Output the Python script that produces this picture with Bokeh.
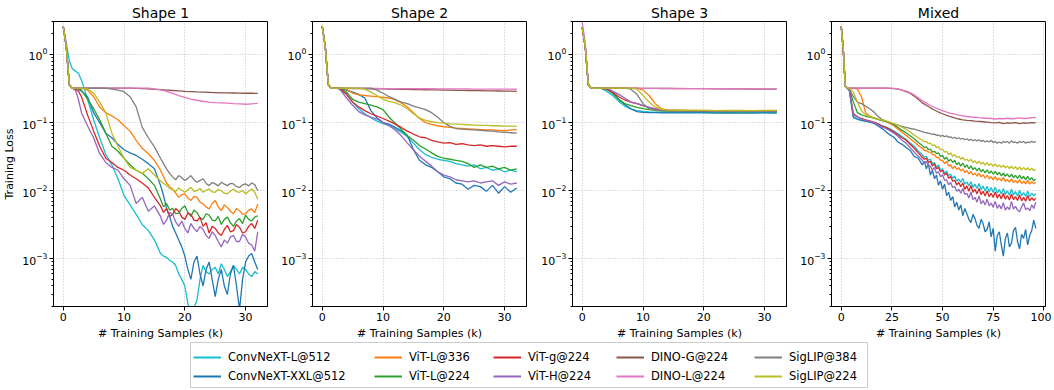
from bokeh.plotting import figure
from bokeh.models import Range1d, FixedTicker, Legend, LegendItem
from bokeh.layouts import column, row
from bokeh.embed import file_html
from bokeh.resources import INLINE

FONT = "DejaVu Sans"

labels = ["ConvNeXT-L@512", "ConvNeXT-XXL@512", "ViT-L@336", "ViT-L@224", "ViT-g@224",
          "ViT-H@224", "DINO-G@224", "DINO-L@224", "SigLIP@384", "SigLIP@224"]
colors = ["#17becf", "#1f77b4", "#ff7f0e", "#2ca02c", "#d62728",
          "#9467bd", "#8c564b", "#e377c2", "#7f7f7f", "#bcbd22"]
titles = ["Shape 1", "Shape 2", "Shape 3", "Mixed"]

# ---------------- Shape 1 ----------------
x_s1 = [0, 0.5, 1, 1.5, 2, 2.5, 3, 4, 5, 6, 7, 8, 9, 10, 11, 12, 13, 14, 15, 16, 17,
        18, 19, 20, 21, 22, 23, 24, 25, 26, 27, 28, 29, 30, 31, 32]
x_s1_fine = [0, 0.5, 1, 1.5, 2, 2.5, 3, 4, 5, 6, 7, 8, 9, 10, 11, 12, 13, 14, 15,
             16, 16.5, 17, 17.5, 18, 18.5, 19, 19.5, 20, 20.5, 21, 21.5, 22, 22.5, 23, 23.5,
             24, 24.5, 25, 25.5, 26, 26.5, 27, 27.5, 28, 28.5, 29, 29.5, 30, 30.5, 31, 31.5, 32]
s1_convnext_l = [2.6, 1.5, 0.8, 0.62, 0.57, 0.53, 0.42, 0.22, 0.11, 0.06, 0.034, 0.024, 0.015,
                 0.0085, 0.0062, 0.0045, 0.0032, 0.0026, 0.0019,
                 0.0012, 0.0011, 0.00105, 0.00095, 0.0009, 0.0008, 0.0006, 0.0005, 0.0004,
                 0.00022, 0.00016, 0.00019, 0.00025, 0.0005, 0.0008, 0.00065, 0.0006, 0.0007,
                 0.00075, 0.0006, 0.00085, 0.0007, 0.00055, 0.00065, 0.0008, 0.0007, 0.0006,
                 0.00075, 0.0007, 0.0006, 0.00055, 0.00065, 0.0006]
s1_convnext_xxl = [2.6, 1.3, 0.36, 0.32, 0.32, 0.31, 0.29, 0.24, 0.14, 0.1, 0.07, 0.06, 0.048,
                   0.04, 0.036, 0.033, 0.029, 0.025, 0.021,
                   0.012, 0.0085, 0.0055, 0.0042, 0.003, 0.0024, 0.0019, 0.0015, 0.0011, 0.0007,
                   0.0005, 0.0009, 0.0011, 0.0006, 0.0004, 0.0007, 0.0009, 0.0005, 0.00028,
                   0.0005, 0.0007, 0.0004, 0.0003, 0.0006, 0.0008, 0.0004, 0.00018, 0.0005,
                   0.0009, 0.0011, 0.0012, 0.0009, 0.0007]
s1_vitl336 = [2.6, 1.3, 0.36, 0.32, 0.32, 0.32, 0.32, 0.3, 0.24, 0.17, 0.14, 0.125, 0.11, 0.09,
              0.075, 0.055, 0.042, 0.035, 0.028,
              0.02, 0.016, 0.013, 0.0115, 0.0105, 0.0092, 0.008, 0.0088, 0.009, 0.0078, 0.0072,
              0.0083, 0.008, 0.0068, 0.0064, 0.0058, 0.0054, 0.0065, 0.0072, 0.0058, 0.0051,
              0.0062, 0.0057, 0.005, 0.0046, 0.0055, 0.0051, 0.0045, 0.0046, 0.0052, 0.0054,
              0.0048, 0.0064]
s1_vitl224 = [2.6, 1.3, 0.36, 0.32, 0.32, 0.32, 0.3, 0.22, 0.16, 0.11, 0.07, 0.045, 0.038, 0.03,
              0.024, 0.02, 0.018, 0.015, 0.012,
              0.0075, 0.0058, 0.0065, 0.0052, 0.0055, 0.0046, 0.0047, 0.0055, 0.006, 0.0048,
              0.0042, 0.0052, 0.0048, 0.004, 0.0038, 0.0046, 0.0044, 0.0037, 0.0036, 0.0042,
              0.0032, 0.0038, 0.0041, 0.0034, 0.003, 0.0036, 0.0039, 0.0033, 0.0044, 0.0038,
              0.0036, 0.0041, 0.0043]
s1_vitg224 = [2.6, 1.3, 0.36, 0.32, 0.31, 0.29, 0.24, 0.13, 0.075, 0.045, 0.03, 0.026, 0.022,
              0.02, 0.017, 0.015, 0.013, 0.011, 0.008,
              0.006, 0.0048, 0.0055, 0.0042, 0.0045, 0.0055, 0.005, 0.0041, 0.0038, 0.0047,
              0.0045, 0.0037, 0.0036, 0.0041, 0.003, 0.0034, 0.0024, 0.003, 0.0028, 0.0024,
              0.0022, 0.0027, 0.0031, 0.0025, 0.0026, 0.0032, 0.0029, 0.0024, 0.0025, 0.003,
              0.0033, 0.0028, 0.0037]
s1_vith224 = [2.6, 1.3, 0.36, 0.32, 0.3, 0.22, 0.14, 0.09, 0.06, 0.035, 0.026, 0.022, 0.02,
              0.015, 0.012, 0.0065, 0.008, 0.005, 0.006,
              0.0042, 0.0032, 0.0037, 0.0048, 0.0045, 0.0035, 0.003, 0.0036, 0.0028, 0.0024,
              0.0033, 0.0028, 0.0025, 0.003, 0.0027, 0.0022, 0.002, 0.0025, 0.0022, 0.0018,
              0.0015, 0.0019, 0.0017, 0.0021, 0.0022, 0.0018, 0.0018, 0.0023, 0.0021, 0.0017,
              0.0016, 0.0013, 0.0025]
s1_dinog224 = [2.6, 1.3, 0.36, 0.32, 0.32, 0.32, 0.32, 0.32, 0.32, 0.32, 0.32, 0.32, 0.32, 0.32,
               0.32, 0.318, 0.315, 0.312, 0.308, 0.304, 0.3, 0.296, 0.292, 0.288, 0.285, 0.282,
               0.28, 0.278, 0.276, 0.274, 0.273, 0.272, 0.271, 0.27, 0.27, 0.269]
s1_dinol224 = [2.6, 1.3, 0.36, 0.32, 0.32, 0.32, 0.32, 0.32, 0.32, 0.32, 0.32, 0.32, 0.32, 0.32,
               0.32, 0.32, 0.32, 0.32, 0.312, 0.302, 0.287, 0.268, 0.25, 0.235, 0.222, 0.213,
               0.206, 0.2, 0.197, 0.195, 0.193, 0.19, 0.188, 0.186, 0.189, 0.192]
s1_siglip384 = [2.6, 1.3, 0.36, 0.32, 0.32, 0.32, 0.32, 0.32, 0.32, 0.32, 0.32, 0.31, 0.3, 0.285,
                0.24, 0.17, 0.085, 0.06, 0.044,
                0.03, 0.025, 0.021, 0.018, 0.016, 0.0145, 0.0167, 0.0155, 0.0141, 0.0152,
                0.0167, 0.0145, 0.0133, 0.0142, 0.015, 0.0128, 0.0119, 0.0132, 0.0126, 0.0118,
                0.0133, 0.0125, 0.0119, 0.0128, 0.0126, 0.0115, 0.0112, 0.0122, 0.0126, 0.0118,
                0.013, 0.0123, 0.01]
s1_siglip224 = [2.6, 1.3, 0.36, 0.32, 0.32, 0.32, 0.32, 0.31, 0.27, 0.2, 0.14, 0.07, 0.045, 0.03,
                0.022, 0.02, 0.018, 0.021, 0.017,
                0.014, 0.0128, 0.012, 0.0108, 0.0105, 0.0098, 0.011, 0.0102, 0.0095, 0.0103,
                0.0112, 0.0098, 0.01, 0.0108, 0.0095, 0.0102, 0.0106, 0.0096, 0.0095, 0.0104,
                0.01, 0.0092, 0.009, 0.0099, 0.0106, 0.0097, 0.0095, 0.0101, 0.009, 0.0098,
                0.0106, 0.0095, 0.0075]

# ---------------- Shape 2 ----------------
x_s2 = [0, 0.5, 1, 1.5, 2, 2.5, 3, 4, 5, 6, 7, 8, 9, 10, 11, 12, 13, 14, 15, 16, 17,
        18, 19, 20, 21, 22, 23, 24, 25, 26, 27, 28, 29, 30, 31, 32]
s2_convnext_l = [2.6, 1.3, 0.36, 0.32, 0.32, 0.32, 0.31, 0.26, 0.2, 0.16, 0.135, 0.118, 0.105, 0.097,
                 0.09, 0.082, 0.072, 0.062, 0.05, 0.04, 0.034, 0.031, 0.029, 0.028, 0.027, 0.025,
                 0.024, 0.023, 0.024, 0.021, 0.022, 0.02, 0.021, 0.019, 0.02, 0.019]
s2_convnext_xxl = [2.6, 1.3, 0.36, 0.32, 0.32, 0.32, 0.32, 0.3, 0.28, 0.26, 0.23, 0.15, 0.118, 0.1,
                   0.095, 0.085, 0.076, 0.065, 0.04, 0.028, 0.024, 0.022, 0.019, 0.016, 0.015, 0.013,
                   0.0125, 0.0105, 0.012, 0.0115, 0.0098, 0.012, 0.0092, 0.0115, 0.0095, 0.011]
s2_vitl336 = [2.6, 1.3, 0.36, 0.32, 0.32, 0.32, 0.32, 0.31, 0.27, 0.255, 0.25, 0.245, 0.24, 0.235,
              0.23, 0.215, 0.195, 0.17, 0.14, 0.115, 0.1, 0.094, 0.09, 0.087, 0.085, 0.083, 0.082,
              0.081, 0.08, 0.079, 0.078, 0.078, 0.077, 0.076, 0.078, 0.079]
s2_vitl224 = [2.6, 1.3, 0.36, 0.32, 0.32, 0.32, 0.32, 0.28, 0.22, 0.2, 0.19, 0.18, 0.17, 0.155,
              0.12, 0.098, 0.08, 0.064, 0.055, 0.046, 0.041, 0.036, 0.032, 0.03, 0.029, 0.028,
              0.027, 0.025, 0.022, 0.024, 0.022, 0.023, 0.021, 0.022, 0.02, 0.021]
s2_vitg224 = [2.6, 1.3, 0.36, 0.32, 0.32, 0.32, 0.31, 0.26, 0.2, 0.17, 0.15, 0.135, 0.125, 0.115,
              0.105, 0.095, 0.085, 0.075, 0.068, 0.062, 0.06, 0.055, 0.052, 0.05, 0.051, 0.048,
              0.049, 0.047, 0.046, 0.047, 0.045, 0.046, 0.045, 0.044, 0.045, 0.045]
s2_vith224 = [2.6, 1.3, 0.36, 0.32, 0.32, 0.32, 0.3, 0.23, 0.18, 0.145, 0.13, 0.12, 0.113, 0.1,
              0.09, 0.078, 0.064, 0.05, 0.04, 0.032, 0.027, 0.023, 0.019, 0.017, 0.016, 0.0145,
              0.014, 0.0135, 0.014, 0.013, 0.0135, 0.014, 0.012, 0.0135, 0.0125, 0.013]
s2_dinog224 = [2.6, 1.3, 0.36, 0.32, 0.32, 0.32, 0.32, 0.318, 0.317, 0.316, 0.315, 0.314, 0.313,
               0.312, 0.311, 0.31, 0.309, 0.308, 0.306, 0.305, 0.304, 0.303, 0.302, 0.3, 0.299,
               0.298, 0.297, 0.296, 0.295, 0.294, 0.293, 0.292, 0.291, 0.29, 0.289, 0.288]
s2_dinol224 = [2.6, 1.3, 0.36, 0.32, 0.32, 0.32, 0.32, 0.318, 0.318, 0.318, 0.317, 0.317, 0.317,
               0.316, 0.316, 0.316, 0.315, 0.315, 0.315, 0.314, 0.314, 0.314, 0.313, 0.313, 0.313,
               0.312, 0.312, 0.312, 0.311, 0.311, 0.311, 0.31, 0.31, 0.31, 0.31, 0.309]
s2_siglip384 = [2.6, 1.3, 0.36, 0.32, 0.32, 0.32, 0.32, 0.32, 0.32, 0.32, 0.32, 0.32, 0.3, 0.27,
                0.24, 0.22, 0.2, 0.19, 0.175, 0.165, 0.155, 0.14, 0.12, 0.1, 0.088, 0.082, 0.08,
                0.079, 0.078, 0.077, 0.076, 0.075, 0.073, 0.072, 0.071, 0.07]
s2_siglip224 = [2.6, 1.3, 0.36, 0.32, 0.32, 0.32, 0.32, 0.32, 0.32, 0.32, 0.31, 0.28, 0.25, 0.22,
                0.205, 0.195, 0.18, 0.16, 0.135, 0.118, 0.108, 0.103, 0.1, 0.098, 0.096, 0.095,
                0.094, 0.093, 0.092, 0.091, 0.091, 0.09, 0.09, 0.089, 0.089, 0.088]

# ---------------- Shape 3 ----------------
x_s3 = [0, 0.5, 1, 1.5, 2, 2.5, 3, 4, 5, 6, 7, 8, 9, 10, 11, 12, 13, 14, 16, 18, 20, 22, 24,
        26, 28, 30, 32]
s3_convnext_l = [2.5, 1.3, 0.36, 0.32, 0.32, 0.32, 0.32, 0.29, 0.25, 0.205, 0.175, 0.158, 0.15,
                 0.146, 0.144, 0.143, 0.142, 0.142, 0.141, 0.142, 0.141, 0.141, 0.142, 0.141, 0.14,
                 0.141, 0.14]
s3_convnext_xxl = [2.5, 1.3, 0.36, 0.32, 0.32, 0.32, 0.32, 0.32, 0.27, 0.22, 0.185, 0.16, 0.145,
                   0.141, 0.14, 0.14, 0.139, 0.139, 0.139, 0.139, 0.139, 0.138, 0.139, 0.138, 0.138,
                   0.139, 0.138]
s3_vitl336 = [2.5, 1.3, 0.36, 0.32, 0.32, 0.32, 0.32, 0.32, 0.32, 0.32, 0.32, 0.32, 0.32, 0.3,
              0.25, 0.19, 0.16, 0.153, 0.152, 0.151, 0.151, 0.15, 0.151, 0.15, 0.15, 0.151, 0.15]
s3_vitl224 = [2.5, 1.3, 0.36, 0.32, 0.32, 0.32, 0.32, 0.31, 0.27, 0.22, 0.19, 0.178, 0.168, 0.16,
              0.155, 0.151, 0.149, 0.148, 0.147, 0.146, 0.146, 0.145, 0.146, 0.145, 0.145, 0.146,
              0.145]
s3_vitg224 = [2.5, 1.3, 0.36, 0.32, 0.32, 0.32, 0.32, 0.31, 0.28, 0.24, 0.215, 0.2, 0.19, 0.178,
              0.168, 0.158, 0.153, 0.151, 0.15, 0.149, 0.149, 0.148, 0.148, 0.147, 0.148, 0.147,
              0.147]
s3_vith224 = [2.5, 1.3, 0.36, 0.32, 0.32, 0.32, 0.32, 0.32, 0.29, 0.26, 0.23, 0.2, 0.19, 0.178,
              0.168, 0.16, 0.155, 0.152, 0.15, 0.149, 0.149, 0.148, 0.148, 0.148, 0.147, 0.148,
              0.147]
s3_dinog224 = [2.5, 1.3, 0.36, 0.32, 0.32, 0.32, 0.32, 0.32, 0.32, 0.32, 0.32, 0.319, 0.319, 0.318,
               0.318, 0.318, 0.317, 0.317, 0.316, 0.315, 0.315, 0.314, 0.313, 0.312, 0.311, 0.31,
               0.31]
s3_dinol224 = [3.0, 1.5, 0.38, 0.32, 0.32, 0.32, 0.32, 0.32, 0.32, 0.32, 0.32, 0.32, 0.32, 0.319,
               0.319, 0.319, 0.318, 0.318, 0.317, 0.316, 0.316, 0.315, 0.314, 0.313, 0.312, 0.312,
               0.311]
s3_siglip384 = [2.5, 1.3, 0.36, 0.32, 0.32, 0.32, 0.32, 0.32, 0.32, 0.32, 0.32, 0.31, 0.26, 0.19,
                0.16, 0.152, 0.15, 0.149, 0.149, 0.148, 0.148, 0.148, 0.147, 0.148, 0.147, 0.147,
                0.148]
s3_siglip224 = [2.5, 1.3, 0.36, 0.32, 0.32, 0.32, 0.32, 0.32, 0.32, 0.32, 0.32, 0.32, 0.31, 0.25,
                0.2, 0.17, 0.157, 0.153, 0.152, 0.151, 0.151, 0.15, 0.15, 0.151, 0.15, 0.15, 0.151]

# ---------------- Mixed ----------------
x_mx = [0, 1, 2, 3, 4, 6, 8, 10, 12, 14, 16, 18, 20, 22, 24, 26, 28, 30, 32, 34, 36, 38, 40, 42,
        44, 46, 48, 50, 52, 54, 56, 58, 60, 62, 64, 66, 68, 70, 72, 74, 76, 78, 80, 82, 84, 86,
        88, 90, 92, 94, 96]
x_mx_fine = [0, 1, 2, 3, 4, 6, 8, 10, 12, 14, 16, 18, 20, 22, 24, 26, 28, 30, 32, 34, 36, 38,
             40, 41, 42, 43, 44, 45, 46, 47, 48, 49, 50, 51, 52, 53, 54, 55, 56, 57, 58, 59, 60,
             61, 62, 63, 64, 65, 66, 67, 68, 69, 70, 71, 72, 73, 74, 75, 76, 77, 78, 79, 80, 81,
             82, 83, 84, 85, 86, 87, 88, 89, 90, 91, 92, 93, 94, 95, 96]
mx_convnext_l = [2.6, 1.2, 0.34, 0.32, 0.3, 0.118, 0.112, 0.108, 0.105, 0.102, 0.099, 0.095, 0.09,
                 0.086, 0.081, 0.075, 0.069, 0.062, 0.057, 0.05, 0.045, 0.038,
                 0.034, 0.031, 0.032, 0.028, 0.029, 0.025, 0.026, 0.022, 0.024, 0.02, 0.021, 0.018,
                 0.0195, 0.0168, 0.0175, 0.0152, 0.0165, 0.0138, 0.0148, 0.0132, 0.0152, 0.0125,
                 0.0135, 0.0118, 0.0136, 0.0112, 0.0125, 0.0108, 0.0128, 0.0104, 0.0118, 0.0098,
                 0.0116, 0.0096, 0.0112, 0.0094, 0.0113, 0.0092, 0.0104, 0.009, 0.0108, 0.0088,
                 0.01, 0.0086, 0.0105, 0.0087, 0.0097, 0.0084, 0.0101, 0.0085, 0.0094, 0.0083,
                 0.0098, 0.0082, 0.0092, 0.0084, 0.0091]
mx_convnext_xxl = [2.6, 1.2, 0.34, 0.32, 0.3, 0.12, 0.113, 0.108, 0.105, 0.102, 0.098, 0.09, 0.082,
                   0.074, 0.066, 0.061, 0.052, 0.048, 0.043, 0.039, 0.032, 0.03,
                   0.024, 0.027, 0.021, 0.025, 0.017, 0.02, 0.015, 0.017, 0.012, 0.014, 0.0105,
                   0.0125, 0.0085, 0.0095, 0.0072, 0.0082, 0.0058, 0.0068, 0.0052, 0.0062, 0.0043,
                   0.0055, 0.0046, 0.0038, 0.0034, 0.0045, 0.0039, 0.0031, 0.0028, 0.0038, 0.0033,
                   0.0025, 0.0027, 0.0035, 0.0021, 0.0028, 0.0013, 0.0022, 0.0025, 0.0016, 0.0011,
                   0.002, 0.0024, 0.0015, 0.0017, 0.0026, 0.0029, 0.0018, 0.0014, 0.0023, 0.002,
                   0.0027, 0.0016, 0.0022, 0.0026, 0.0037, 0.0028]
mx_vitl336 = [2.6, 1.2, 0.34, 0.32, 0.32, 0.32, 0.31, 0.24, 0.14, 0.125, 0.118, 0.113, 0.108,
              0.103, 0.097, 0.09, 0.08, 0.072, 0.065, 0.058, 0.052, 0.046,
              0.042, 0.039, 0.039, 0.037, 0.037, 0.034, 0.034, 0.031, 0.031, 0.028, 0.028, 0.025,
              0.027, 0.023, 0.024, 0.021, 0.023, 0.0205, 0.0218, 0.0195, 0.0208, 0.0185, 0.0198,
              0.0176, 0.0192, 0.017, 0.0181, 0.0164, 0.0182, 0.016, 0.0172, 0.0153, 0.017, 0.015,
              0.016, 0.0145, 0.0162, 0.0142, 0.0153, 0.014, 0.0157, 0.0137, 0.0146, 0.0134, 0.015,
              0.0132, 0.0142, 0.013, 0.0146, 0.0128, 0.0138, 0.0126, 0.0142, 0.0125, 0.0136,
              0.0127, 0.0133]
mx_vitl224 = [2.6, 1.2, 0.34, 0.32, 0.31, 0.2, 0.14, 0.13, 0.124, 0.12, 0.116, 0.112, 0.108,
              0.104, 0.099, 0.093, 0.085, 0.077, 0.071, 0.064, 0.058, 0.051,
              0.046, 0.043, 0.044, 0.04, 0.041, 0.037, 0.038, 0.035, 0.036, 0.032, 0.033, 0.029,
              0.031, 0.027, 0.029, 0.026, 0.028, 0.024, 0.026, 0.023, 0.0255, 0.022, 0.024, 0.021,
              0.0232, 0.0205, 0.0218, 0.0196, 0.0215, 0.019, 0.0205, 0.0183, 0.0203, 0.018,
              0.0195, 0.0175, 0.0192, 0.0172, 0.0186, 0.0166, 0.0182, 0.0163, 0.0176, 0.0158,
              0.0175, 0.0155, 0.0168, 0.0152, 0.017, 0.015, 0.0162, 0.0146, 0.0163, 0.0144,
              0.0156, 0.014, 0.0148]
mx_vitg224 = [2.6, 1.2, 0.34, 0.32, 0.3, 0.135, 0.122, 0.115, 0.11, 0.106, 0.102, 0.097, 0.09,
              0.085, 0.079, 0.073, 0.066, 0.06, 0.055, 0.048, 0.042, 0.036,
              0.031, 0.029, 0.03, 0.026, 0.027, 0.023, 0.025, 0.021, 0.022, 0.019, 0.02, 0.017,
              0.018, 0.0152, 0.0162, 0.0138, 0.0142, 0.0122, 0.0132, 0.0115, 0.013, 0.0105,
              0.0118, 0.0098, 0.012, 0.0095, 0.0105, 0.009, 0.0108, 0.0088, 0.0098, 0.0084,
              0.0099, 0.0082, 0.0092, 0.008, 0.0096, 0.0078, 0.0089, 0.0076, 0.0092, 0.0075,
              0.0085, 0.0073, 0.009, 0.0074, 0.0082, 0.0072, 0.0087, 0.0071, 0.008, 0.007,
              0.0085, 0.0071, 0.0079, 0.0072, 0.0078]
mx_vith224 = [2.6, 1.2, 0.34, 0.32, 0.3, 0.13, 0.12, 0.113, 0.108, 0.104, 0.1, 0.094, 0.086,
              0.082, 0.076, 0.07, 0.063, 0.055, 0.05, 0.043, 0.037, 0.032,
              0.028, 0.025, 0.027, 0.023, 0.023, 0.02, 0.022, 0.018, 0.019, 0.016, 0.0172, 0.0142,
              0.0145, 0.0122, 0.0132, 0.0112, 0.0115, 0.0098, 0.0105, 0.0092, 0.0108, 0.0088,
              0.0092, 0.0078, 0.0096, 0.0074, 0.008, 0.0068, 0.0084, 0.0064, 0.0072, 0.0062,
              0.0075, 0.006, 0.0066, 0.0057, 0.007, 0.0055, 0.0062, 0.0054, 0.0067, 0.0052,
              0.0058, 0.0053, 0.007, 0.0054, 0.0059, 0.0052, 0.0049, 0.0058, 0.0066, 0.0053,
              0.0056, 0.0051, 0.0062, 0.0055, 0.0068]
mx_dinog224 = [2.6, 1.2, 0.34, 0.32,
               0.32, 0.32, 0.32, 0.32, 0.32, 0.32, 0.32, 0.32, 0.32, 0.32,
               0.318, 0.315, 0.31, 0.3, 0.285, 0.27, 0.245, 0.22, 0.195, 0.18,
               0.165, 0.153, 0.143, 0.135, 0.128, 0.122, 0.117, 0.113, 0.11, 0.108,
               0.107, 0.105, 0.104, 0.103, 0.102, 0.1, 0.099, 0.101, 0.097, 0.099,
               0.098, 0.1, 0.097, 0.099, 0.098, 0.1, 0.099]
mx_dinol224 = [2.6, 1.2, 0.34, 0.32,
               0.32, 0.32, 0.32, 0.32, 0.32, 0.32, 0.32, 0.32, 0.32, 0.32,
               0.32, 0.318, 0.312, 0.3, 0.29, 0.275, 0.255, 0.232, 0.21, 0.193,
               0.178, 0.168, 0.158, 0.15, 0.143, 0.137, 0.133, 0.129, 0.126, 0.123,
               0.121, 0.12, 0.118, 0.117, 0.116, 0.115, 0.113, 0.115, 0.114, 0.116,
               0.114, 0.115, 0.117, 0.115, 0.116, 0.118, 0.119]
mx_siglip384 = [2.6, 1.2, 0.34, 0.32, 0.31, 0.24, 0.2, 0.19, 0.175, 0.16, 0.145, 0.125, 0.112,
                0.105, 0.1, 0.095, 0.091, 0.088, 0.085, 0.082, 0.08, 0.077,
                0.074, 0.072, 0.071, 0.07, 0.069, 0.067, 0.068, 0.065, 0.066, 0.063, 0.065, 0.062,
                0.064, 0.061, 0.062, 0.059, 0.061, 0.058, 0.06, 0.057, 0.059, 0.056, 0.058, 0.055,
                0.057, 0.054, 0.056, 0.054, 0.056, 0.053, 0.055, 0.052, 0.054, 0.052, 0.055, 0.051,
                0.053, 0.05, 0.052, 0.05, 0.053, 0.051, 0.053, 0.05, 0.054, 0.051, 0.052, 0.05,
                0.053, 0.051, 0.053, 0.05, 0.052, 0.051, 0.053, 0.051, 0.053]
mx_siglip224 = [2.6, 1.2, 0.34, 0.32, 0.32, 0.28, 0.2, 0.15, 0.13, 0.122, 0.117, 0.113, 0.11,
                0.106, 0.102, 0.097, 0.092, 0.086, 0.08, 0.073, 0.066, 0.06,
                0.055, 0.052, 0.053, 0.049, 0.05, 0.046, 0.047, 0.043, 0.044, 0.04, 0.041, 0.037,
                0.038, 0.034, 0.036, 0.032, 0.034, 0.031, 0.032, 0.029, 0.031, 0.028, 0.029, 0.027,
                0.029, 0.026, 0.0275, 0.025, 0.0272, 0.0245, 0.0262, 0.0238, 0.0258, 0.0235,
                0.025, 0.0228, 0.0248, 0.0225, 0.024, 0.022, 0.0238, 0.0216, 0.0232, 0.0212,
                0.0229, 0.021, 0.0225, 0.0205, 0.0224, 0.0203, 0.022, 0.0202, 0.0218, 0.02,
                0.0214, 0.0198, 0.0206]

panel_series = [
    [(x_s1_fine, s1_convnext_l), (x_s1_fine, s1_convnext_xxl), (x_s1_fine, s1_vitl336),
     (x_s1_fine, s1_vitl224), (x_s1_fine, s1_vitg224), (x_s1_fine, s1_vith224),
     (x_s1, s1_dinog224), (x_s1, s1_dinol224), (x_s1_fine, s1_siglip384),
     (x_s1_fine, s1_siglip224)],
    [(x_s2, s2_convnext_l), (x_s2, s2_convnext_xxl), (x_s2, s2_vitl336), (x_s2, s2_vitl224),
     (x_s2, s2_vitg224), (x_s2, s2_vith224), (x_s2, s2_dinog224), (x_s2, s2_dinol224),
     (x_s2, s2_siglip384), (x_s2, s2_siglip224)],
    [(x_s3, s3_convnext_l), (x_s3, s3_convnext_xxl), (x_s3, s3_vitl336), (x_s3, s3_vitl224),
     (x_s3, s3_vitg224), (x_s3, s3_vith224), (x_s3, s3_dinog224), (x_s3, s3_dinol224),
     (x_s3, s3_siglip384), (x_s3, s3_siglip224)],
    [(x_mx_fine, mx_convnext_l), (x_mx_fine, mx_convnext_xxl), (x_mx_fine, mx_vitl336),
     (x_mx_fine, mx_vitl224), (x_mx_fine, mx_vitg224), (x_mx_fine, mx_vith224),
     (x_mx, mx_dinog224), (x_mx, mx_dinol224), (x_mx_fine, mx_siglip384),
     (x_mx_fine, mx_siglip224)],
]
panel_xrange = [(-1.6, 33.6), (-1.6, 33.6), (-1.6, 33.6), (-4.8, 100.8)]
panel_xticks = [[0, 10, 20, 30], [0, 10, 20, 30], [0, 10, 20, 30], [0, 25, 50, 75, 100]]
y_major = [1e-3, 1e-2, 1e-1, 1.0]
y_minor = [m * 10.0 ** e for e in range(-4, 1) for m in range(2, 10)]

for pi, group in enumerate(panel_series):
    for si, (xs, s) in enumerate(group):
        if len(s) != len(xs):
            raise ValueError("panel %d series %d: %d vs %d" % (pi, si, len(s), len(xs)))

borders = [(52, 5), (40, 5), (41, 5), (40, 6)]
figs = []
for i in range(4):
    bl, br = borders[i]
    p = figure(frame_width=214, frame_height=285, y_axis_type="log",
               x_range=Range1d(*panel_xrange[i]), y_range=Range1d(2e-4, 3.05),
               output_backend="svg", toolbar_location=None,
               min_border_left=bl, min_border_right=br, min_border_top=21, min_border_bottom=35,
               title=titles[i])
    p.title.align = "center"
    p.title.text_font = FONT
    p.title.text_font_size = "14px"
    p.title.text_font_style = "normal"
    p.title.text_color = "black"
    p.title.standoff = 1
    for (xs, ys), c in zip(panel_series[i], colors):
        p.line(xs, ys, line_color=c, line_width=1.3)
    p.xaxis.ticker = FixedTicker(ticks=panel_xticks[i])
    p.yaxis.ticker = FixedTicker(ticks=y_major, minor_ticks=y_minor)
    p.xgrid.ticker = FixedTicker(ticks=panel_xticks[i])
    p.ygrid.ticker = FixedTicker(ticks=y_major)
    for g in (p.xgrid, p.ygrid):
        g.grid_line_color = "#b0b0b0"
        g.grid_line_dash = "1 2"
        g.grid_line_width = 0.8
    for ax in p.axis:
        ax.axis_line_color = "black"
        ax.major_tick_line_color = "black"
        ax.minor_tick_line_color = "black"
        ax.major_tick_in = 0
        ax.major_tick_out = 4
        ax.minor_tick_in = 0
        ax.minor_tick_out = 2
        ax.major_label_text_font = FONT
        ax.major_label_text_font_size = "11px"
        ax.major_label_text_color = "black"
        ax.major_label_standoff = 2
        ax.axis_label_text_font = FONT
        ax.axis_label_text_font_size = "11px"
        ax.axis_label_text_font_style = "normal"
        ax.axis_label_text_color = "black"
        ax.axis_label_standoff = 3
    p.xaxis.minor_tick_line_color = None
    p.xaxis.axis_label = "# Training Samples (k)"
    if i == 0:
        p.yaxis.axis_label = "Training Loss"
    p.outline_line_color = "black"
    p.outline_line_width = 1
    p.outline_line_alpha = 1
    p.background_fill_color = "white"
    figs.append(p)

# ---------------- Legend ----------------
lg = figure(frame_width=678, frame_height=46, x_axis_type=None, y_axis_type=None,
            x_range=Range1d(0, 1), y_range=Range1d(0, 1), output_backend="svg",
            toolbar_location=None, min_border_left=190, min_border_right=0,
            min_border_top=0, min_border_bottom=0)
lg.outline_line_color = "#cccccc"
lg.outline_line_width = 1
rends = [lg.line([-10, -9], [-10, -10], line_color=c, line_width=2) for c in colors]
col_x = [7, 188, 307, 430, 568]
pad = 4
for j in range(5):
    items = [LegendItem(label=labels[2 * j], renderers=[rends[2 * j]]),
             LegendItem(label=labels[2 * j + 1], renderers=[rends[2 * j + 1]])]
    leg = Legend(items=items, location=(col_x[j] - pad, 5), orientation="vertical",
                 border_line_color=None, background_fill_alpha=0, padding=pad, margin=0,
                 spacing=5, glyph_width=28, glyph_height=14, label_height=14,
                 label_standoff=7, label_text_font=FONT, label_text_font_size="11.5px",
                 label_text_color="black")
    lg.add_layout(leg)

layout = column(row(*figs), lg)
open("out.html", "w").write(file_html(layout, INLINE))
